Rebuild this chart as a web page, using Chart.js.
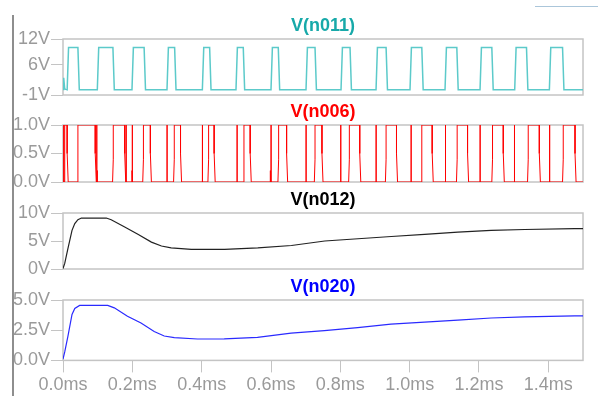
<!DOCTYPE html>
<html>
<head>
<meta charset="utf-8">
<title>Transient</title>
<script src="https://cdn.jsdelivr.net/npm/chart.js@4.4.1/dist/chart.umd.min.js"></script>
<style>
  body { margin: 0; background: #fff; overflow: hidden; width: 598px; height: 396px; position: relative; }
  canvas { position: absolute; left: 0; }
  #frame { position: absolute; left: 12px; top: 15px; width: 2px; height: 381px; background: #8e8e8e; }
  #cursor { position: absolute; left: 535px; top: 6px; width: 63px; height: 1px; background: #abc6da; }
</style>
</head>
<body>
<div id="frame"></div>
<div id="cursor"></div>
<canvas id="p1" width="598" height="95" style="top:12px"></canvas>
<canvas id="p2" width="598" height="96" style="top:98px"></canvas>
<canvas id="p3" width="598" height="95" style="top:186px"></canvas>
<canvas id="p4" width="598" height="125" style="top:273px"></canvas>
<script>
// time axis (ms)
const xTicks = [0, 0.2, 0.4, 0.6, 0.8, 1.0, 1.2, 1.4];
const xLabels = ['0.0ms', '0.2ms', '0.4ms', '0.6ms', '0.8ms', '1.0ms', '1.2ms', '1.4ms'];
const tEnd = 1.5;

// V(n011): gate drive, edges in ms
const n011StartT = [0, 0.002, 0.005, 0.008];
const n011StartV = [0.3, 3.0, 0.4, 0.3];
const n011Rise = [0.012, 0.099, 0.199, 0.300, 0.402, 0.499, 0.600, 0.701, 0.802, 0.903, 1.001, 1.102, 1.203, 1.303, 1.403];
const n011Fall = [0.043, 0.144, 0.234, 0.322, 0.423, 0.520, 0.621, 0.727, 0.828, 0.932, 1.035, 1.136, 1.237, 1.337, 1.441];
const n011Lo = 0.2;
const n011Hi = 10;
const n011Ticks = [-1, 6, 12];
const n011Labels = ['-1V', '6V', '12V'];

// V(n006): logic output, high intervals + short glitches
const n006On = [0.005, 0.043, 0.145, 0.232, 0.321, 0.420, 0.522, 0.622, 0.727, 0.826, 0.932, 1.035, 1.137, 1.239, 1.342, 1.443];
const n006Off = [0.012, 0.093, 0.178, 0.252, 0.339, 0.436, 0.540, 0.645, 0.747, 0.856, 0.962, 1.065, 1.167, 1.270, 1.374, 1.477];
const n006GlitchT = [0.002, 0.097, 0.098, 0.182, 0.199, 0.200, 0.300, 0.402, 0.502, 0.598, 0.600, 0.701, 0.801, 0.903, 1.004, 1.102, 1.104, 1.203, 1.301, 1.303, 1.403, 1.404];
const n006GlitchV = [1, 1, 0.2, 1, 0.2, 1, 1, 1, 1, 0.2, 1, 1, 1, 1, 1, 0.2, 1, 1, 0.2, 1, 0.2, 1];
const n006Ticks = [0, 0.5, 1];
const n006Labels = ['0.0V', '0.5V', '1.0V'];

// V(n012)
const n012T = [0, 0.005, 0.014, 0.026, 0.034, 0.043, 0.053, 0.125, 0.139, 0.178, 0.216, 0.255, 0.284, 0.312, 0.37, 0.466, 0.562, 0.659, 0.755, 0.851, 0.947, 1.043, 1.139, 1.235, 1.332, 1.476, 1.5];
const n012V = [0.1, 1.0, 3.6, 6.9, 8.1, 8.8, 9.1, 9.1, 8.8, 7.5, 6.2, 4.8, 4.1, 3.76, 3.5, 3.5, 3.76, 4.2, 5.0, 5.4, 5.8, 6.2, 6.6, 6.9, 7.05, 7.2, 7.22];
const n012Ticks = [0, 5, 10];
const n012Labels = ['0V', '5V', '10V'];

// V(n020)
const n020T = [0, 0.005, 0.014, 0.026, 0.034, 0.048, 0.129, 0.148, 0.186, 0.225, 0.263, 0.292, 0.321, 0.388, 0.465, 0.561, 0.658, 0.754, 0.85, 0.946, 1.043, 1.139, 1.235, 1.331, 1.476, 1.5];
const n020V = [0.1, 0.7, 1.96, 3.8, 4.3, 4.55, 4.55, 4.35, 3.65, 3.09, 2.39, 2.02, 1.88, 1.77, 1.78, 1.91, 2.25, 2.47, 2.72, 3.0, 3.17, 3.34, 3.51, 3.6, 3.68, 3.69];
const n020Ticks = [0, 2.5, 5];
const n020Labels = ['0.0V', '2.5V', '5.0V'];

Chart.defaults.font.family = "'Liberation Sans', Arial, sans-serif";

const zip = (ts, vs) => ts.map((t, i) => ({ x: t, y: vs[i] }));

// square wave from edge lists
const squareWave = () => {
  const pts = zip(n011StartT, n011StartV);
  n011Rise.forEach((r, i) => {
    pts.push({ x: r, y: n011Lo }, { x: r + 0.004, y: n011Hi });
    pts.push({ x: n011Fall[i], y: n011Hi }, { x: n011Fall[i] + 0.004, y: n011Lo });
  });
  pts.push({ x: tEnd, y: n011Lo });
  return pts;
};

// logic trace: pulses and glitches merged in time order
const logicTrace = () => {
  let groups = [];
  n006On.forEach((s, i) => {
    groups.push([{ x: s - 0.002, y: 0 }, { x: s, y: 0.4 }, { x: s, y: 1 }, { x: n006Off[i], y: 1 }, { x: n006Off[i], y: 0.5 }, { x: n006Off[i] + 0.003, y: 0 }]);
  });
  n006GlitchT.forEach((t, i) => {
    groups.push([{ x: t, y: 0 }, { x: t, y: n006GlitchV[i] }, { x: t + 0.0004, y: n006GlitchV[i] }, { x: t + 0.0004, y: 0 }]);
  });
  groups.sort((a, b) => a[0].x - b[0].x);
  const pts = [{ x: 0, y: 0 }];
  groups.forEach(g => pts.push(...g));
  pts.push({ x: tEnd, y: 0 });
  return pts;
};

// grey frame round each plot area
const boxPlugin = {
  id: 'box',
  beforeDatasetsDraw(chart) {
    const { ctx, chartArea: a } = chart;
    ctx.save();
    ctx.strokeStyle = '#c4c4c4';
    ctx.lineWidth = 1.5;
    ctx.strokeRect(a.left, a.top, a.right - a.left, a.bottom - a.top);
    ctx.restore();
  }
};

const tickGrey = '#9a9a9a';

const makePane = (id, title, titleColor, lineColor, lineWidth, data, yTicks, yLabels, showX) => {
  const xScale = {
    type: 'linear', min: 0, max: tEnd, display: showX,
    afterBuildTicks: s => { s.ticks = xTicks.map(v => ({ value: v })); },
    grid: { drawOnChartArea: false, tickLength: 12, color: '#c4c4c4' },
    border: { display: false },
    ticks: { callback: (v, i) => xLabels[i], color: tickGrey, font: { size: 18 }, padding: 2, maxRotation: 0 }
  };
  return new Chart(document.getElementById(id), {
    type: 'line',
    data: {
      datasets: [{
        data: data,
        borderColor: lineColor,
        borderWidth: lineWidth,
        pointRadius: 0,
        tension: 0,
        fill: false
      }]
    },
    options: {
      responsive: false,
      animation: false,
      events: [],
      layout: { padding: { left: 0, right: 15, top: 0, bottom: showX ? 0 : 12 } },
      scales: {
        x: xScale,
        y: {
          min: yTicks[0], max: yTicks[yTicks.length - 1],
          afterBuildTicks: s => { s.ticks = yTicks.map(v => ({ value: v })); },
          afterFit: s => { s.width = 63; },
          grid: { drawOnChartArea: false, tickLength: 12, color: '#c4c4c4' },
          border: { display: false },
          ticks: { callback: (v, i) => yLabels[i], color: tickGrey, font: { size: 18 }, padding: 1 }
        }
      },
      plugins: {
        legend: { display: false },
        tooltip: { enabled: false },
        title: {
          display: true, text: title, color: titleColor, fullSize: false,
          font: { size: 18, weight: 'bold' },
          padding: { top: 3, bottom: 2.4 }
        }
      }
    },
    plugins: [boxPlugin]
  });
};

makePane('p1', 'V(n011)', '#17a9a9', '#5ccaca', 1.5, squareWave(), n011Ticks, n011Labels, false);
makePane('p2', 'V(n006)', '#ff0000', '#ff0000', 1, logicTrace(), n006Ticks, n006Labels, false);
makePane('p3', 'V(n012)', '#000000', '#222222', 1.2, zip(n012T, n012V), n012Ticks, n012Labels, false);
makePane('p4', 'V(n020)', '#0000ff', '#2a2aff', 1.2, zip(n020T, n020V), n020Ticks, n020Labels, true);
</script>
</body>
</html>
